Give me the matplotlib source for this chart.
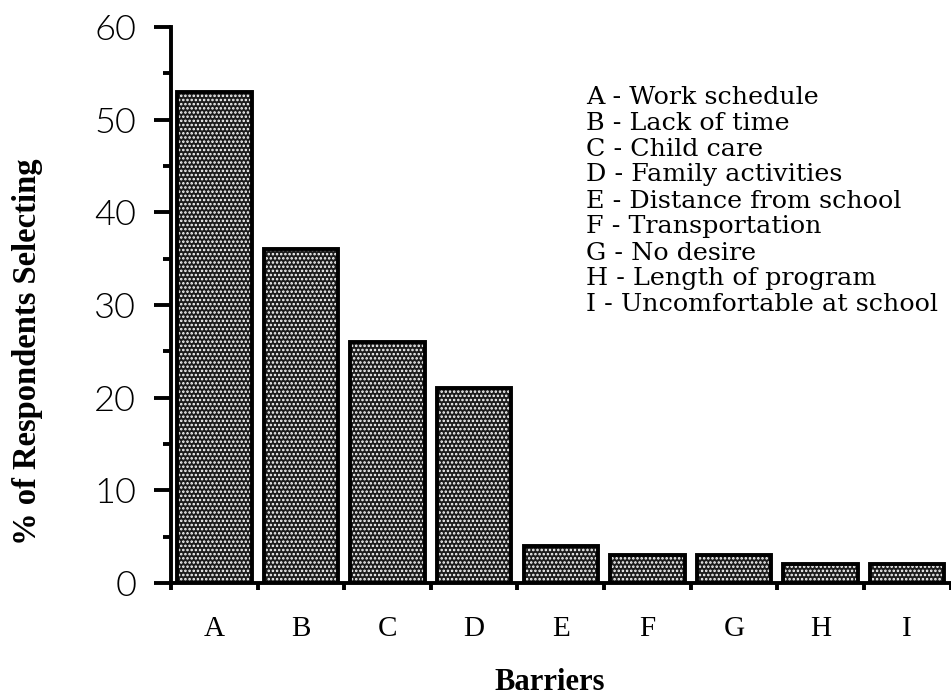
import os
import matplotlib
matplotlib.use("Agg")
import matplotlib.pyplot as plt
from matplotlib import font_manager as fm
import numpy as np

categories = ["A", "B", "C", "D", "E", "F", "G", "H", "I"]
values = [53, 36, 26, 21, 4, 3, 3, 2, 2]
legend_labels = [
    "A - Work schedule",
    "B - Lack of time",
    "C - Child care",
    "D - Family activities",
    "E - Distance from school",
    "F - Transportation",
    "G - No desire",
    "H - Length of program",
    "I - Uncomfortable at school",
]
y_ticks = [0, 10, 20, 30, 40, 50, 60]

_files = {os.path.basename(f).lower(): f for f in fm.findSystemFonts()}


def fprop(filenames, family, size, weight="normal"):
    for fn in filenames:
        if fn.lower() in _files:
            return fm.FontProperties(fname=_files[fn.lower()], size=size)
    return fm.FontProperties(family=family, size=size, weight=weight)


serif_reg = lambda s: fprop(["LiberationSerif-Regular.ttf"], "Liberation Serif", s)
serif_bold = lambda s: fprop(["LiberationSerif-Bold.ttf"], "Liberation Serif", s, "bold")
legend_font = fprop(["DejaVuSerif.ttf"], "DejaVu Serif", 18.3)
ytick_font = fprop(["Lato-Light.ttf", "Lato-Regular.ttf"], "Lato", 26)

plt.rcParams['hatch.linewidth'] = 1.2

fig = plt.figure(figsize=(9.51, 6.95), dpi=100)
ax = fig.add_axes([171/951, 1 - 583/695, 1 - 171/951 - 0.0005, (583 - 27)/695])

x = np.arange(len(categories))
# textured fill
ax.bar(x, values, width=0.86, color="#1c1c1c", edgecolor="white", linewidth=0,
       hatch="....", zorder=2)
# outline
ax.bar(x, values, width=0.86, fill=False, edgecolor="black", linewidth=2.8, zorder=3)

ax.set_xlim(-0.5, len(categories) - 0.5)
ax.set_ylim(0, 60)

for s in ["top", "right"]:
    ax.spines[s].set_visible(False)
for s in ["left", "bottom"]:
    ax.spines[s].set_linewidth(2.8)

# y ticks
ax.set_yticks(y_ticks)
ax.set_yticks(np.arange(5, 60, 10), minor=True)
ax.set_yticklabels([str(v) for v in y_ticks], fontproperties=ytick_font, color="black")
ax.tick_params(axis="y", which="major", length=12, width=2.8, direction="out", pad=13)
ax.tick_params(axis="y", which="minor", length=6, width=2.8, direction="out")

# x ticks at bin edges, labels at centers
ax.set_xticks(np.arange(-0.5, len(categories), 1.0))
ax.set_xticklabels([])
ax.set_xticks(x, minor=True)
ax.set_xticklabels(categories, minor=True, fontproperties=serif_reg(21))
ax.tick_params(axis="x", which="major", length=5, width=2.8, direction="out")
ax.tick_params(axis="x", which="minor", length=0, pad=24)

# legend text
for i, t in enumerate(legend_labels):
    fig.text(586/951, 1 - (97 + i * 26)/695, t, fontproperties=legend_font,
             ha="left", va="center")

fig.text(28/951, 1 - 352/695, "% of Respondents Selecting", rotation=90,
         fontproperties=serif_bold(23.5), ha="center", va="center")
fig.text(550/951, 1 - 682/695, "Barriers", fontproperties=serif_bold(22),
         ha="center", va="center")

fig.savefig("out.png", dpi=100)
